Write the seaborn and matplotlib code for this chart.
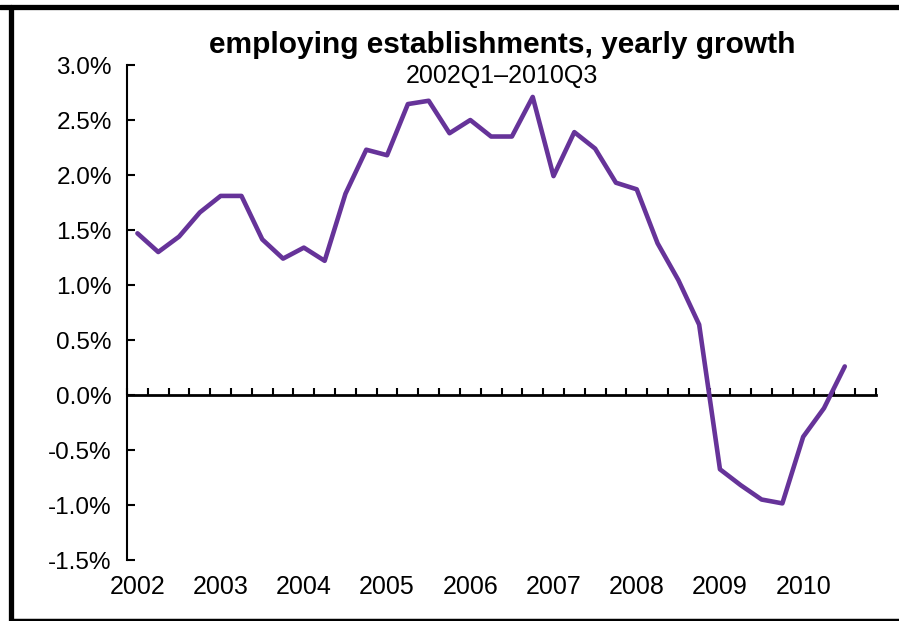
import numpy as np
import pandas as pd
import matplotlib
matplotlib.use("Agg")
import matplotlib.pyplot as plt
from matplotlib.lines import Line2D
import seaborn as sns

# Dane: wzrost roczny liczby zakładów, 2002Q1-2010Q3 (w %)
quarters = [f"{y}Q{q}" for y in range(2002, 2011) for q in range(1, 5)][:35]
growth = [1.47, 1.30, 1.44, 1.66, 1.81, 1.81, 1.415, 1.24, 1.34, 1.22,
          1.83, 2.23, 2.18, 2.645, 2.675, 2.38, 2.50, 2.35, 2.35, 2.71,
          1.99, 2.39, 2.24, 1.93, 1.87, 1.38, 1.045, 0.64, -0.675, -0.82,
          -0.95, -0.985, -0.38, -0.12, 0.26]
year_labels = [str(y) for y in range(2002, 2011)]
y_ticks = [-1.5, -1.0, -0.5, 0.0, 0.5, 1.0, 1.5, 2.0, 2.5, 3.0]

df = pd.DataFrame({"kwartal": quarters, "wzrost": growth})
df["pos"] = np.arange(len(df))

sns.set_style("white")
plt.rcParams["font.family"] = ["Liberation Sans", "DejaVu Sans"]
plt.rcParams["text.color"] = "black"
plt.rcParams["xtick.color"] = "black"
plt.rcParams["ytick.color"] = "black"
plt.rcParams["axes.edgecolor"] = "black"

fig = plt.figure(figsize=(8.99, 6.21), dpi=100)
ax = fig.add_axes([0.1413, 0.0982, 0.8331, 0.7971])

sns.lineplot(data=df, x="pos", y="wzrost", color="#663399", linewidth=3.3, ax=ax)

n_cat = 36
ax.set_xlim(-0.5, n_cat - 0.5)
ax.set_ylim(-1.5, 3.0)

# os Y
ax.set_yticks(y_ticks)
ax.set_yticklabels([f"{v:.1f}%" for v in y_ticks], fontsize=17.5)
ax.tick_params(axis="y", direction="in", length=6, width=1.5, pad=11, left=True)
ax.spines["left"].set_linewidth(1.5)
for s in ["top", "right", "bottom"]:
    ax.spines[s].set_visible(False)

# etykiety lat na dole
ax.set_xticks(np.arange(0, n_cat, 4))
ax.set_xticklabels(year_labels, fontsize=18)
ax.tick_params(axis="x", length=0, pad=11)
ax.set_xlabel("")
ax.set_ylabel("")

# linia zera z podzialkami
sec = ax.secondary_xaxis(1.5 / 4.5)
sec.set_xticks(np.arange(-0.5, n_cat, 1))
sec.set_xticklabels([])
sec.tick_params(axis="x", direction="in", length=5, width=1.5, color="black")
sec.spines["bottom"].set_linewidth(2)
sec.spines["bottom"].set_color("black")

fig.text(0.5585, 0.927, "employing establishments, yearly growth",
         ha="center", va="center", fontsize=21.5, fontweight="bold")
fig.text(0.5585, 0.877, "2002Q1\u20132010Q3", ha="center", va="center", fontsize=18)

# ramka
fig.add_artist(Line2D([0, 1], [1 - 6.5 / 621] * 2, color="black", lw=3.8, transform=fig.transFigure))
fig.add_artist(Line2D([10.5 / 899] * 2, [0, 1 - 6.5 / 621], color="black", lw=3.8, transform=fig.transFigure))
fig.add_artist(Line2D([10.5 / 899, 1], [1.5 / 621] * 2, color="black", lw=2.5, transform=fig.transFigure))

fig.savefig("out.png", dpi=100)
